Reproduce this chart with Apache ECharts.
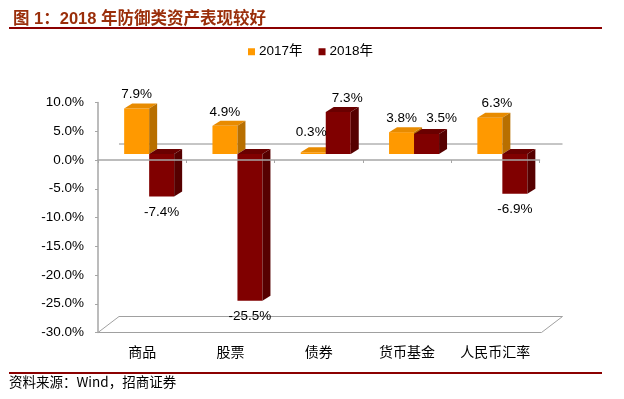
<!DOCTYPE html>
<html>
<head>
<meta charset="utf-8">
<script src="https://cdn.jsdelivr.net/npm/echarts@6/dist/echarts.min.js"></script>
<style>
  html, body { margin: 0; padding: 0; background: #fff; }
  #chart { width: 624px; height: 399px; }
</style>
</head>
<body>
<div id="chart"></div>
<script>
// data
const categories = ['商品', '股票', '债券', '货币基金', '人民币汇率'];
const seriesNames = ['2017年', '2018年'];
const values2017 = [7.9, 4.9, 0.3, 3.8, 6.3];
const values2018 = [-7.4, -25.5, 7.3, 3.5, -6.9];
const yTicks = { min: -30, max: 10, interval: 5 };

// 3D look: front face / top face / side face colours
const faceColors = [
    { front: '#FF9900', top: '#E88B00', side: '#B86F00' },
    { front: '#800000', top: '#6A0000', side: '#560000' }
];
const BAR_W = 25;          // front face width
const OFF = [7, -6];       // bars sit a bit back from the front plane
const DEPTH = [8, -5];     // bar depth
const WALL = [21, -16];    // full depth of the floor / back wall
// small manual label shifts (like moved data labels in excel)
const labelNudge = { '0-2': [-2, -6], '1-2': [9, 0], '1-3': [15, -2], '0-4': [7, 0] };

let myChart = echarts.init(document.getElementById('chart'));

function barItem(s) {
    return function (params, api) {
        let i = api.value(0), v = api.value(1);
        let p0 = api.coord([i, 0]);
        let p1 = api.coord([i, v]);
        let cx = p0[0] + OFF[0];
        let y0 = p0[1] + OFF[1];
        let y1 = p1[1] + OFF[1];
        let x0 = cx - BAR_W + s * BAR_W;
        let x1 = x0 + BAR_W;
        let top = Math.min(y0, y1), bot = Math.max(y0, y1);
        let dx = DEPTH[0], dy = DEPTH[1];
        let c = faceColors[s];
        let nudge = labelNudge[s + '-' + i] || [0, 0];
        let ly = v >= 0 ? top + dy - 9 : bot + 16;
        return {
            type: 'group',
            children: [
                { type: 'rect', shape: { x: x0, y: top, width: BAR_W, height: Math.max(bot - top, 0.5) },
                  style: { fill: c.front } },
                { type: 'polygon', shape: { points: [[x0, top], [x0 + dx, top + dy], [x1 + dx, top + dy], [x1, top]] },
                  style: { fill: c.top } },
                { type: 'polygon', shape: { points: [[x1, top], [x1 + dx, top + dy], [x1 + dx, bot + dy], [x1, bot]] },
                  style: { fill: c.side } },
                { type: 'text', z2: 10,
                  style: { text: v.toFixed(1) + '%', x: (x0 + x1) / 2 + nudge[0], y: ly + nudge[1],
                           align: 'center', verticalAlign: 'middle', fontSize: 13.5,
                           fontFamily: 'Liberation Sans, Arial', fill: '#000' } }
            ]
        };
    };
}

// floor and back-wall zero line
function decorItem(params, api) {
    let cs = params.coordSys;
    let yz = api.coord([0, 0])[1];
    let left = cs.x, right = cs.x + cs.width, yb = cs.y + cs.height;
    return {
        type: 'group',
        children: [
            { type: 'polygon',
              shape: { points: [[left, yb], [right + 2, yb], [right + 2 + WALL[0], yb + WALL[1]], [left + WALL[0], yb + WALL[1]]] },
              style: { fill: '#fff', stroke: '#A0A0A0', lineWidth: 1 } },
            { type: 'line',
              shape: { x1: left + WALL[0], y1: yz + WALL[1], x2: right + 2 + WALL[0], y2: yz + WALL[1] },
              style: { stroke: '#8C8C8C', lineWidth: 1 } }
        ]
    };
}

myChart.setOption({
    animation: false,
    title: {
        text: '图 1：2018 年防御类资产表现较好',
        left: 8,
        top: 6,
        textStyle: {
            fontSize: 16.5,
            fontWeight: 'bold',
            color: '#9A2E0A',
            fontFamily: 'Liberation Sans, Noto Sans CJK SC'
        }
    },
    legend: {
        data: seriesNames,
        left: 243,
        top: 40,
        icon: 'rect',
        itemWidth: 7,
        itemHeight: 7,
        itemGap: 16,
        textStyle: { fontSize: 13.5, color: '#000', fontFamily: 'Liberation Sans, Noto Sans CJK SC', padding: [0, 0, 0, -1] }
    },
    grid: {
        left: 98,
        right: 84.5,
        top: 102.5,
        bottom: 66.5
    },
    xAxis: [
        {
            type: 'category',
            data: categories,
            position: 'bottom',
            z: 5,
            axisLine: { onZero: true, lineStyle: { color: '#A6A6A6', width: 1.5 } },
            axisTick: { show: true, length: 3, lineStyle: { color: '#A6A6A6' } },
            axisLabel: { show: false }
        },
        {
            type: 'category',
            data: categories,
            position: 'bottom',
            axisLine: { show: false, onZero: false },
            axisTick: { show: false },
            axisLabel: { interval: 0, margin: 12, fontSize: 14, color: '#000', fontFamily: 'Noto Sans CJK SC' }
        }
    ],
    yAxis: {
        type: 'value',
        min: yTicks.min,
        max: yTicks.max,
        interval: yTicks.interval,
        axisLine: { show: true, lineStyle: { color: '#A6A6A6', width: 1.5 } },
        axisTick: { show: true, length: 3, lineStyle: { color: '#A6A6A6' } },
        splitLine: { show: false },
        axisLabel: {
            margin: 14,
            fontSize: 13.5,
            color: '#000',
            fontFamily: 'Liberation Sans, Arial',
            formatter: function (v) { return v.toFixed(1) + '%'; }
        }
    },
    series: [
        {
            name: seriesNames[0],
            type: 'custom',
            z: 1,
            itemStyle: { color: faceColors[0].front },
            renderItem: barItem(0),
            data: values2017.map(function (v, i) { return [i, v]; })
        },
        {
            name: seriesNames[1],
            type: 'custom',
            z: 1,
            itemStyle: { color: faceColors[1].front },
            renderItem: barItem(1),
            data: values2018.map(function (v, i) { return [i, v]; })
        },
        {
            name: 'decor',
            type: 'custom',
            z: 0,
            silent: true,
            itemStyle: { color: '#A0A0A0' },
            renderItem: decorItem,
            data: [[0, 0]]
        }
    ],
    graphic: [
        { type: 'rect', shape: { x: 9, y: 27, width: 593, height: 2 }, style: { fill: '#8B0000' } },
        { type: 'rect', shape: { x: 9, y: 372, width: 593, height: 2 }, style: { fill: '#8B0000' } },
        { type: 'text', left: 9, top: 375,
          style: { text: '资料来源：Wind，招商证券', fontSize: 13.5, fill: '#000', fontFamily: 'Noto Sans CJK SC' } }
    ]
});
</script>
</body>
</html>
